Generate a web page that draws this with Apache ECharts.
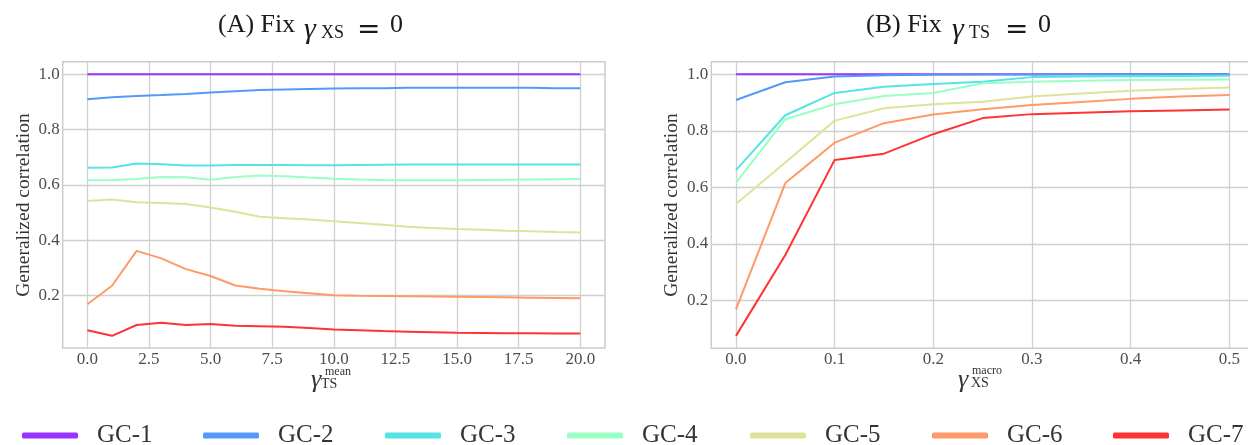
<!DOCTYPE html>
<html>
<head>
<meta charset="utf-8">
<script src="https://cdn.jsdelivr.net/npm/echarts@6/dist/echarts.min.js"></script>
<style>
html,body{margin:0;padding:0;background:#fff;}
#c{width:1248px;height:445px;}
</style>
</head>
<body>
<div id="c"></div>
<script>
// ---- data ----
const seriesNames = ['GC-1','GC-2','GC-3','GC-4','GC-5','GC-6','GC-7'];
const seriesColors = ['#9933ff','#5599f8','#55e4e4','#99ffc3','#dde499','#ff9968','#ff3333'];

// Panel A: x = gamma_TS^mean
const xA = [0,1,2,3,4,5,6,7,8,9,10,11,12,13,14,15,16,17,18,19,20];
const gc1A = [1,1,1,1,1,1,1,1,1,1,1,1,1,1,1,1,1,1,1,1,1];
const gc2A = [0.910,0.917,0.922,0.925,0.929,0.934,0.939,0.943,0.945,0.947,0.949,0.950,0.950,0.951,0.951,0.951,0.951,0.951,0.951,0.950,0.950];
const gc3A = [0.662,0.663,0.678,0.675,0.670,0.670,0.672,0.672,0.672,0.671,0.671,0.672,0.673,0.674,0.674,0.674,0.674,0.674,0.674,0.674,0.674];
const gc4A = [0.617,0.618,0.622,0.629,0.628,0.619,0.629,0.634,0.632,0.627,0.623,0.620,0.618,0.617,0.617,0.617,0.618,0.619,0.620,0.621,0.622];
const gc5A = [0.542,0.548,0.538,0.535,0.531,0.519,0.503,0.485,0.480,0.475,0.469,0.463,0.456,0.449,0.445,0.441,0.438,0.435,0.433,0.430,0.428];
const gc6A = [0.169,0.236,0.362,0.335,0.296,0.271,0.237,0.225,0.216,0.209,0.202,0.200,0.199,0.198,0.197,0.196,0.195,0.194,0.193,0.192,0.191];
const gc7A = [0.075,0.055,0.094,0.102,0.094,0.098,0.091,0.090,0.088,0.083,0.078,0.075,0.072,0.070,0.068,0.066,0.065,0.064,0.064,0.063,0.063];

// Panel B: x = gamma_XS^macro
const xB = [0,0.05,0.1,0.15,0.2,0.25,0.3,0.35,0.4,0.45,0.5];
const gc1B = [1,1,1,1,1,1,1,1,1,1,1];
const gc2B = [0.909,0.972,0.992,0.997,0.998,0.999,0.999,1.0,1.0,1.0,1.0];
const gc3B = [0.661,0.855,0.934,0.956,0.966,0.974,0.990,0.992,0.993,0.994,0.995];
const gc4B = [0.616,0.841,0.894,0.923,0.934,0.968,0.974,0.977,0.980,0.981,0.982];
const gc5B = [0.541,0.688,0.836,0.880,0.894,0.903,0.921,0.932,0.942,0.948,0.953];
const gc6B = [0.168,0.615,0.758,0.827,0.858,0.876,0.891,0.902,0.913,0.921,0.927];
const gc7B = [0.074,0.360,0.697,0.719,0.788,0.845,0.859,0.864,0.869,0.872,0.875];

const yTicks = [0.2,0.4,0.6,0.8,1.0];
const xTicksA = [0,2.5,5,7.5,10,12.5,15,17.5,20];
const xTicksB = [0,0.1,0.2,0.3,0.4,0.5];

// ---- chart ----
const FONT = '"Liberation Serif","DejaVu Serif",serif';
const dataA = [gc1A,gc2A,gc3A,gc4A,gc5A,gc6A,gc7A];
const dataB = [gc1B,gc2B,gc3B,gc4B,gc5B,gc6B,gc7B];

function pairs(xs, ys){ return xs.map((x,i)=>[x, ys[i]]); }

const series = [];
seriesNames.forEach((n,i)=>{
  series.push({name:n,type:'line',xAxisIndex:0,yAxisIndex:0,data:pairs(xA,dataA[i]),
    showSymbol:false,symbol:'none',color:seriesColors[i],lineStyle:{width:2,color:seriesColors[i]},z:10+i});
  series.push({name:n,type:'line',xAxisIndex:1,yAxisIndex:1,data:pairs(xB,dataB[i]),
    showSymbol:false,symbol:'none',color:seriesColors[i],lineStyle:{width:2,color:seriesColors[i]},z:10+i});
});

const legendLefts = [22,203,385,567,750,932,1113];
const legends = seriesNames.map((n,i)=>({
  data:[n], left:legendLefts[i], top:423, padding:0, orient:'horizontal',
  icon:'roundRect', itemWidth:56, itemHeight:6, selectedMode:false,
  textStyle:{fontFamily:FONT,fontSize:25,color:'#333',padding:[0,0,0,14]}
}));

const gridLine = {show:true,lineStyle:{color:'#d0d0d0',width:1.3}};
function xAxis(gi,min,max,ticks){
  return {type:'value',gridIndex:gi,min:min,max:max,
    axisLine:{show:false},axisTick:{show:false,customValues:ticks},
    axisLabel:{customValues:ticks,formatter:v=>v.toFixed(1),fontFamily:FONT,fontSize:17,color:'#4d4d4d',margin:3},
    splitLine:gridLine};
}
function yAxis(gi,min,max){
  return {type:'value',gridIndex:gi,min:min,max:max,
    axisLine:{show:false},axisTick:{show:false,customValues:yTicks},
    axisLabel:{customValues:yTicks,formatter:v=>v.toFixed(1),fontFamily:FONT,fontSize:17,color:'#4d4d4d',margin:3},
    splitLine:gridLine};
}

function txt(t,x,y,size,opts){
  return Object.assign({type:'text',x:x,y:y,silent:true,
    style:Object.assign({text:t,fontFamily:FONT,fontSize:size,fill:'#1a1a1a',align:'left',verticalAlign:'middle'},opts||{})});
}
function titleParts(dx, label, sub){
  return [
    txt(label+' Fix',218+dx,25,26),
    txt('γ',304+dx,30,30,{fontStyle:'italic'}),
    txt(sub,321+dx,33,18),
    txt('=',357+dx,31,28,{fontFamily:'"DejaVu Serif",serif'}),
    txt('0',390+dx,25,26)
  ];
}
const graphics = [].concat(
  titleParts(0,'(A)','XS'),
  titleParts(648,'(B)','TS'),
  [
    txt('γ',311,380,26,{fontStyle:'italic',fill:'#333'}),
    txt('mean',325,372,12,{fill:'#333'}),
    txt('TS',321,384,14,{fill:'#333'}),
    txt('γ',958,380,26,{fontStyle:'italic',fill:'#333'}),
    txt('macro',972,371,12,{fill:'#333'}),
    txt('XS',971,383,14,{fill:'#333'}),
    {type:'text',x:24,y:205,rotation:Math.PI/2,silent:true,
      style:{text:'Generalized correlation',fontFamily:FONT,fontSize:19.5,fill:'#333',align:'center',verticalAlign:'middle'}},
    {type:'text',x:672,y:205,rotation:Math.PI/2,silent:true,
      style:{text:'Generalized correlation',fontFamily:FONT,fontSize:19.5,fill:'#333',align:'center',verticalAlign:'middle'}}
  ]
);

const option = {
  backgroundColor:'#ffffff',
  animation:false,
  grid:[
    {left:62.7,top:61.7,width:542.3,height:286.3,show:true,borderColor:'#cccccc',borderWidth:1.5,backgroundColor:'transparent',outerBoundsMode:'none'},
    {left:711.3,top:61.7,right:-6,height:286.6,show:true,borderColor:'#cccccc',borderWidth:1.5,backgroundColor:'transparent',outerBoundsMode:'none'}
  ],
  xAxis:[xAxis(0,-1,21,xTicksA), xAxis(1,-0.025,0.525,xTicksB)],
  yAxis:[yAxis(0,0.011,1.0455), yAxis(1,0.030,1.0446)],
  legend:legends,
  series:series,
  graphic:graphics
};
const chart = echarts.init(document.getElementById('c'),null,{renderer:'canvas'});
chart.setOption(option);
</script>
</body>
</html>
